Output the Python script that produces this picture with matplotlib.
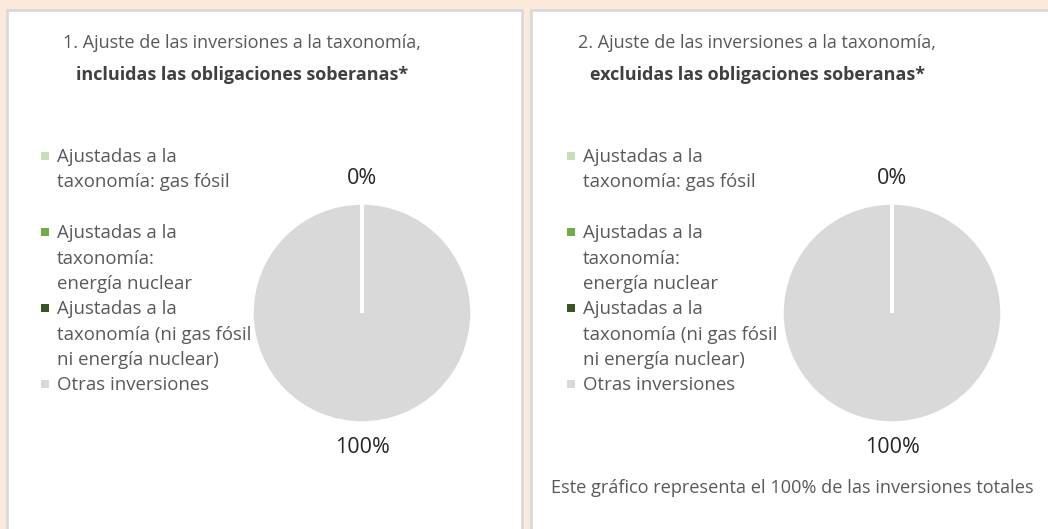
import matplotlib.pyplot as plt
from matplotlib.patches import Rectangle

plt.rcParams['font.family'] = ['Open Sans', 'DejaVu Sans']

# data
categories = ["Ajustadas a la\ntaxonomía: gas fósil",
              "Ajustadas a la\ntaxonomía:\nenergía nuclear",
              "Ajustadas a la\ntaxonomía (ni gas fósil\nni energía nuclear)",
              "Otras inversiones"]
incl_values = [0, 0, 0, 100]
excl_values = [0, 0, 0, 100]
colors = ['#C5E0B4', '#70AD47', '#375623', '#D9D9D9']

titles_top = ["1. Ajuste de las inversiones a la taxonomía,",
              "2. Ajuste de las inversiones a la taxonomía,"]
titles_bold = ["incluidas las obligaciones soberanas*",
               "excluidas las obligaciones soberanas*"]
note = "Este gráfico representa el 100% de las inversiones totales"

W, H = 1048, 529
fig = plt.figure(figsize=(W / 100, H / 100), dpi=100)
fig.patch.set_facecolor('#FBE9D9')

def fx(x):
    return x / W

def fy(y):
    return 1 - y / H

# white panels
for left, right in [(7, 522), (531, 1060)]:
    fig.patches.append(Rectangle((fx(left), fy(545)), fx(right - left), (545 - 10) / H,
                                 transform=fig.transFigure, facecolor='white',
                                 edgecolor='#D9D9D9', linewidth=2, zorder=-5))

text_col = '#595959'
panels = [
    dict(vals=incl_values, title_x=242, leg_x=41, cx=362),
    dict(vals=excl_values, title_x=757, leg_x=567, cx=892),
]
r = 110
cy = 313
line_h = 25.5

for i, p in enumerate(panels):
    fig.text(fx(p['title_x']), fy(43), titles_top[i], ha='center', va='center',
             fontsize=13, color=text_col)
    fig.text(fx(p['title_x']), fy(75), titles_bold[i], ha='center', va='center',
             fontsize=13, color='#404040', fontweight='bold')

    # legend (marker next to the first line of each entry)
    slot_y = [156, 232, 308, 384]
    for lab, col, y in zip(categories, colors, slot_y):
        fig.patches.append(Rectangle((fx(p['leg_x']), fy(y + 4)), fx(8), 8 / H,
                                     transform=fig.transFigure, facecolor=col,
                                     edgecolor='none'))
        for k, line in enumerate(lab.split("\n")):
            fig.text(fx(p['leg_x'] + 16), fy(y + 6 + k * line_h), line, ha='left',
                     va='baseline', fontsize=13.4, color=text_col)

    ax = fig.add_axes([fx(p['cx'] - r), fy(cy + r), fx(2 * r), 2 * r / H])
    vals = p['vals']
    labels = []
    for j, v in enumerate(vals):
        if j > 0 and v == 0 and vals[j - 1] == 0:
            labels.append('')
        else:
            labels.append(f"{v:.0f}%")
    wedges, texts = ax.pie(vals, colors=colors, startangle=90, counterclock=False,
                           labels=labels, labeldistance=1.22,
                           wedgeprops=dict(edgecolor='white', linewidth=2.5),
                           textprops=dict(fontsize=15.5, color='#262626'))
    # keep the empty slices' white edges visible on top of the full slice
    for w, v in zip(wedges, vals):
        if v == 0:
            w.set_zorder(3)
    for t in texts:
        t.set_horizontalalignment('center')
        t.set_verticalalignment('center')
    ax.set_xlim(-1, 1)
    ax.set_ylim(-1, 1)
    ax.set_aspect('equal')

fig.text(fx(551), fy(488), note, ha='left', va='center', fontsize=13.1, color=text_col)

plt.savefig('out.png', dpi=100)
